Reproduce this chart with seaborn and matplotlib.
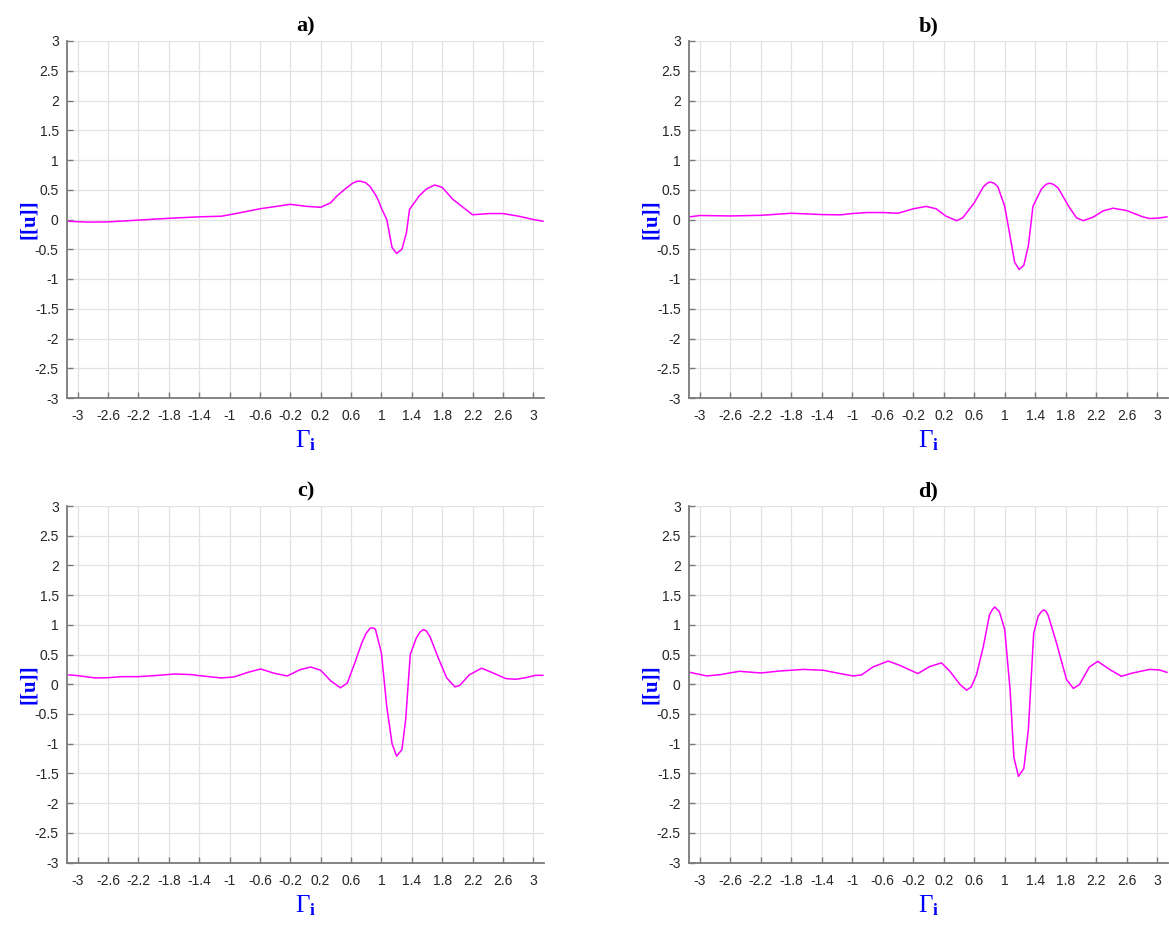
import numpy as np
import pandas as pd
import matplotlib
matplotlib.use("Agg")
import matplotlib.pyplot as plt
import seaborn as sns

# ---- data ----
x_a = [-3.12, -2.86, -2.6, -2.2, -1.8, -1.4, -1.11, -1.0, -0.6, -0.2, 0.02, 0.2, 0.33, 0.41, 0.5,
       0.61, 0.67, 0.72, 0.79, 0.85, 0.92, 0.96, 1.0, 1.07, 1.14, 1.2, 1.27, 1.33, 1.37, 1.5, 1.59,
       1.7, 1.8, 1.85, 1.94, 2.03, 2.2, 2.42, 2.6, 2.81, 3.0, 3.13]
y_a = [-0.03, -0.044, -0.04, -0.01, 0.02, 0.045, 0.055, 0.08, 0.18, 0.255, 0.22, 0.205, 0.28, 0.39, 0.49,
       0.60, 0.64, 0.645, 0.62, 0.555, 0.42, 0.32, 0.19, 0.0, -0.47, -0.57, -0.5, -0.22, 0.17, 0.4, 0.51,
       0.58, 0.54, 0.47, 0.34, 0.25, 0.08, 0.10, 0.10, 0.055, 0.0, -0.03]

x_b = [-3.13, -3.0, -2.6, -2.2, -1.8, -1.4, -1.16, -1.0, -0.81, -0.6, -0.4, -0.2, -0.03, 0.1,
       0.23, 0.37, 0.45, 0.6, 0.72, 0.77, 0.81, 0.86, 0.91, 1.0, 1.07, 1.13, 1.19, 1.25, 1.31, 1.37,
       1.48, 1.54, 1.59, 1.64, 1.7, 1.84, 1.94, 2.03, 2.16, 2.29, 2.42, 2.6, 2.81, 2.9, 3.0, 3.13]
y_b = [0.045, 0.067, 0.06, 0.07, 0.105, 0.083, 0.078, 0.10, 0.117, 0.117, 0.105, 0.18, 0.22, 0.18,
       0.055, -0.02, 0.03, 0.28, 0.55, 0.61, 0.63, 0.61, 0.55, 0.22, -0.28, -0.72, -0.84, -0.77, -0.44, 0.22,
       0.51, 0.59, 0.61, 0.59, 0.53, 0.22, 0.03, -0.02, 0.04, 0.145, 0.19, 0.15, 0.045, 0.017, 0.022, 0.045]

x_c = [-3.12, -3.0, -2.77, -2.6, -2.42, -2.2, -1.99, -1.72, -1.5, -1.4, -1.11, -0.94, -0.76, -0.59,
       -0.41, -0.24, -0.07, 0.07, 0.2, 0.33, 0.46, 0.55, 0.63, 0.74, 0.8, 0.85, 0.88, 0.92, 1.0, 1.07,
       1.14, 1.2, 1.27, 1.32, 1.38, 1.46, 1.51, 1.55, 1.59, 1.64, 1.75, 1.86, 1.97, 2.03, 2.16, 2.32,
       2.47, 2.64, 2.77, 2.9, 3.03, 3.13]
y_c = [0.157, 0.145, 0.106, 0.11, 0.128, 0.128, 0.145, 0.173, 0.162, 0.145, 0.106, 0.123, 0.2, 0.257,
       0.184, 0.14, 0.246, 0.29, 0.235, 0.06, -0.06, 0.02, 0.29, 0.69, 0.86, 0.94, 0.95, 0.93, 0.525, -0.37,
       -1.0, -1.21, -1.1, -0.59, 0.5, 0.78, 0.88, 0.92, 0.90, 0.80, 0.44, 0.106, -0.045, -0.02, 0.16, 0.27,
       0.19, 0.095, 0.084, 0.11, 0.15, 0.15]

x_d = [-3.13, -2.91, -2.74, -2.48, -2.2, -1.95, -1.64, -1.38, -1.16, -0.99, -0.88, -0.73, -0.53,
       -0.38, -0.14, 0.02, 0.17, 0.28, 0.41, 0.5, 0.56, 0.63, 0.72, 0.8, 0.84, 0.87, 0.93, 1.0, 1.07,
       1.12, 1.18, 1.25, 1.31, 1.38, 1.44, 1.48, 1.51, 1.54, 1.57, 1.68, 1.81, 1.9, 1.98, 2.11, 2.22,
       2.38, 2.53, 2.68, 2.9, 3.03, 3.13]
y_d = [0.2, 0.14, 0.16, 0.218, 0.19, 0.223, 0.25, 0.235, 0.18, 0.14, 0.156, 0.29, 0.39,
       0.32, 0.18, 0.3, 0.36, 0.22, 0.0, -0.1, -0.045, 0.16, 0.64, 1.17, 1.26, 1.3, 1.22, 0.92, -0.09,
       -1.23, -1.55, -1.42, -0.76, 0.86, 1.15, 1.22, 1.25, 1.23, 1.16, 0.69, 0.08, -0.07, -0.006, 0.29, 0.385,
       0.246, 0.134, 0.19, 0.25, 0.24, 0.2]

panel_titles = ["a)", "b)", "c)", "d)"]
x_ticks = [-3, -2.6, -2.2, -1.8, -1.4, -1, -0.6, -0.2, 0.2, 0.6, 1, 1.4, 1.8, 2.2, 2.6, 3]
y_ticks = [-3, -2.5, -2, -1.5, -1, -0.5, 0, 0.5, 1, 1.5, 2, 2.5, 3]
x_label = r"$\Gamma_{\mathbf{i}}$"
y_label = "[[u]]"

series = [(x_a, y_a), (x_b, y_b), (x_c, y_c), (x_d, y_d)]

# ---- style ----
sns.set_theme(style="white")
plt.rcParams['font.family'] = ['Liberation Sans', 'DejaVu Sans']
plt.rcParams['mathtext.fontset'] = 'custom'
plt.rcParams['mathtext.rm'] = 'Liberation Serif'
plt.rcParams['mathtext.it'] = 'Liberation Serif:italic'
plt.rcParams['mathtext.bf'] = 'Liberation Serif:bold'

W, H = 1169, 927
fig = plt.figure(figsize=(W / 100, H / 100), dpi=100)
fig.patch.set_facecolor("white")

rects = [
    (67, 41, 544, 398),
    (689, 41, 1168, 398),
    (67, 506, 544, 862.5),
    (689, 506, 1168, 862.5),
]


def fmt(v):
    s = f"{v:.1f}".rstrip("0").rstrip(".")
    return "0" if s in ("-0", "0") else s


for (l, t, r, b), (xs, ys), ttl in zip(rects, series, panel_titles):
    ax = fig.add_axes([l / W, (H - b) / H, (r - l) / W, (b - t) / H])
    df = pd.DataFrame({"x": xs, "y": ys})
    sns.lineplot(data=df, x="x", y="y", ax=ax, color="#FF00FF", linewidth=1.1,
                 estimator=None, sort=False)
    ax.set_xlim(-np.pi, np.pi)
    ax.set_ylim(-3, 3)
    ax.set_xticks(x_ticks)
    ax.set_xticklabels([fmt(v) for v in x_ticks])
    ax.set_yticks(y_ticks)
    ax.set_yticklabels([fmt(v) for v in y_ticks])
    ax.grid(True, color="#e2e2e2", linewidth=0.9)
    ax.set_axisbelow(True)
    for side in ("top", "right"):
        ax.spines[side].set_visible(False)
    for side in ("left", "bottom"):
        ax.spines[side].set_color("#7a7a7a")
        ax.spines[side].set_linewidth(1.3)
    ax.tick_params(axis="both", direction="in", length=4, width=1, color="#7a7a7a",
                   labelsize=10, labelcolor="#262626", left=True, bottom=True)
    ax.tick_params(axis="x", pad=8)
    ax.tick_params(axis="y", pad=6)
    ax.set_title(ttl, fontsize=16, fontweight="bold", family="Liberation Serif",
                 color="black", pad=7)
    ax.set_xlabel(x_label, fontsize=18, color="#0000FF", labelpad=4)
    ax.set_ylabel(y_label, fontsize=15, fontweight="bold", family="Liberation Serif",
                  color="#0000FF", labelpad=-3)

fig.savefig("out.png", dpi=100, facecolor="white")
